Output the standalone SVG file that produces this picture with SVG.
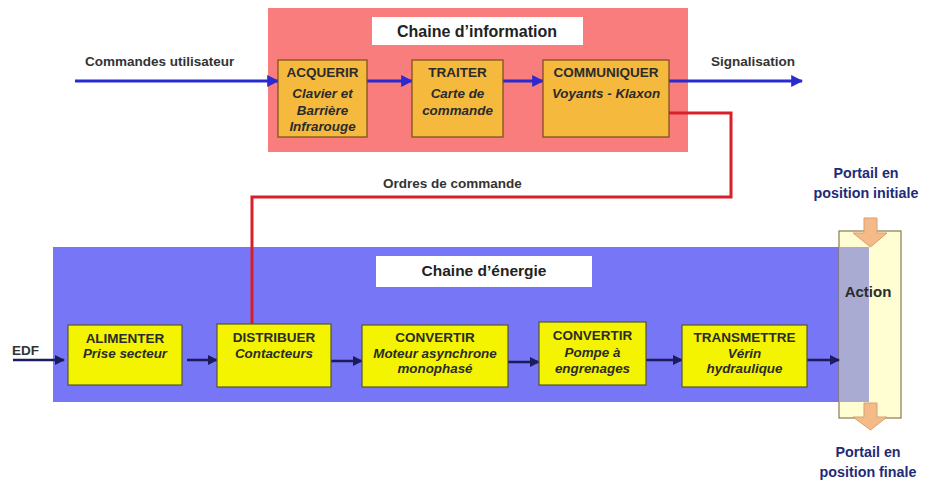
<svg xmlns="http://www.w3.org/2000/svg" width="930" height="481" viewBox="0 0 930 481">
  <defs>
    <marker id="headBlue" viewBox="0 0 10 10" refX="9" refY="5" markerWidth="4" markerHeight="4" orient="auto" markerUnits="strokeWidth">
      <path d="M0,0 L10,5 L0,10 z" fill="#2a2ad0"/>
    </marker>
    <marker id="headNavy" viewBox="0 0 10 10" refX="9" refY="5" markerWidth="4" markerHeight="4" orient="auto" markerUnits="strokeWidth">
      <path d="M0,0 L10,5 L0,10 z" fill="#1b1b5e"/>
    </marker>
    <style>
      text { font-family: "Liberation Sans", Arial, sans-serif; font-weight: bold; fill: #2b2b2b; }
      .t { font-size: 13.5px; text-anchor: middle; }
      .s { font-size: 13.4px; font-style: italic; text-anchor: middle; }
      .title { font-size: 16px; text-anchor: middle; fill: #222; }
      .lbl { font-size: 13.5px; fill: #333; }
      .portal { font-size: 14.3px; text-anchor: middle; fill: #1f2a78; }
      .info { fill: #f5b93e; stroke: #7a4a1a; stroke-width: 1.2; }
      .energy { fill: #f4f400; stroke: #555530; stroke-width: 1.2; }
      .titlebox { fill: #ffffff; }
      .flowBlue { stroke: #2a2ad0; stroke-width: 3; fill: none; marker-end: url(#headBlue); }
      .flowNavy { stroke: #1b1b5e; stroke-width: 2.5; fill: none; marker-end: url(#headNavy); }
      .order { stroke: #d8202a; stroke-width: 3; fill: none; }
      .fat { fill: #f4bb88; stroke: #d9a070; stroke-width: 1; }
    </style>
  </defs>

  <rect width="930" height="481" fill="#ffffff"/>

  <!-- Information chain panel -->
  <g id="chaine-information">
    <rect x="268" y="8" width="420" height="144" fill="#f97d7d"/>
    <rect class="titlebox" x="372" y="17" width="211" height="28"/>
    <text class="title" x="477" y="37">Chaine d’information</text>
  </g>

  <!-- Energy chain panel -->
  <g id="chaine-energie">
    <rect x="53" y="247" width="816" height="155" fill="#7676f6"/>
    <rect class="titlebox" x="376" y="256" width="216" height="31"/>
    <text class="title" x="484" y="276" style="font-size:15.5px">Chaine d’énergie</text>
  </g>

  <!-- Action column -->
  <g id="action">
    <rect x="839" y="231" width="62" height="187" fill="#fffdd2" stroke="#8a7a50" stroke-width="1.2"/>
    <rect x="839.6" y="247" width="29.4" height="155" fill="#a9abd3"/>
    <text x="868" y="297" text-anchor="middle" style="font-size:15px" fill="#222">Action</text>
  </g>

  <!-- Connectors -->
  <g id="connectors">
    <line class="flowBlue" x1="75" y1="81" x2="278" y2="81"/>
    <line class="flowBlue" x1="367" y1="81" x2="412" y2="81"/>
    <line class="flowBlue" x1="503" y1="81" x2="543" y2="81"/>
    <line class="flowBlue" x1="669" y1="81" x2="802" y2="81"/>
    <polyline class="order" points="669,113 731,113 731,197 252,197 252,324"/>
    <line class="flowNavy" x1="13" y1="360" x2="64" y2="360"/>
    <line class="flowNavy" x1="187" y1="360" x2="217" y2="360"/>
    <line class="flowNavy" x1="331" y1="361" x2="362" y2="361"/>
    <line class="flowNavy" x1="508" y1="362" x2="539" y2="362"/>
    <line class="flowNavy" x1="646" y1="360" x2="682" y2="360"/>
    <line class="flowNavy" x1="807" y1="360" x2="839" y2="360"/>
    <path class="fat" d="M864,218 H877 V233 H887 L870.5,247 L853,233 H864 Z"/>
    <path class="fat" d="M864,403 H877 V417 H887 L870.5,430 L853,417 H864 Z"/>
  </g>

  <!-- Flow labels -->
  <g id="labels">
    <text class="lbl" x="85" y="66">Commandes utilisateur</text>
    <text class="lbl" x="711" y="66">Signalisation</text>
    <text class="lbl" x="383" y="188">Ordres de commande</text>
    <text class="lbl" x="12" y="355">EDF</text>
    <text class="portal" x="866" y="178">Portail en</text>
    <text class="portal" x="866" y="198">position initiale</text>
    <text class="portal" x="868" y="457">Portail en</text>
    <text class="portal" x="868" y="477">position finale</text>
  </g>

  <!-- Information chain functions -->
  <g id="acquerir">
    <rect class="info" x="278" y="60" width="89" height="77"/>
    <text class="t" x="322.5" y="77">ACQUERIR</text>
    <text class="s" x="322.5" y="98">Clavier et</text>
    <text class="s" x="322.5" y="115">Barrière</text>
    <text class="s" x="322.5" y="131">Infrarouge</text>
  </g>
  <g id="traiter">
    <rect class="info" x="412" y="60" width="91" height="77"/>
    <text class="t" x="457.5" y="77">TRAITER</text>
    <text class="s" x="457.5" y="98">Carte de</text>
    <text class="s" x="457.5" y="115">commande</text>
  </g>
  <g id="communiquer">
    <rect class="info" x="543" y="60" width="126" height="77"/>
    <text class="t" x="606" y="77">COMMUNIQUER</text>
    <text class="s" x="606" y="98">Voyants - Klaxon</text>
  </g>

  <!-- Energy chain functions -->
  <g id="alimenter">
    <rect class="energy" x="68" y="325" width="114" height="60"/>
    <text class="t" x="125" y="343">ALIMENTER</text>
    <text class="s" x="125" y="358">Prise secteur</text>
  </g>
  <g id="distribuer">
    <rect class="energy" x="217" y="324" width="114" height="63"/>
    <text class="t" x="274" y="342">DISTRIBUER</text>
    <text class="s" x="274" y="358">Contacteurs</text>
  </g>
  <g id="convertir-moteur">
    <rect class="energy" x="362" y="325" width="146" height="62"/>
    <text class="t" x="435" y="342">CONVERTIR</text>
    <text class="s" x="435" y="358">Moteur asynchrone</text>
    <text class="s" x="435" y="373">monophasé</text>
  </g>
  <g id="convertir-pompe">
    <rect class="energy" x="539" y="322" width="107" height="63"/>
    <text class="t" x="592.5" y="340">CONVERTIR</text>
    <text class="s" x="592.5" y="357">Pompe à</text>
    <text class="s" x="592.5" y="373">engrenages</text>
  </g>
  <g id="transmettre">
    <rect class="energy" x="682" y="325" width="125" height="62"/>
    <text class="t" x="744.5" y="342">TRANSMETTRE</text>
    <text class="s" x="744.5" y="358">Vérin</text>
    <text class="s" x="744.5" y="373">hydraulique</text>
  </g>
</svg>
